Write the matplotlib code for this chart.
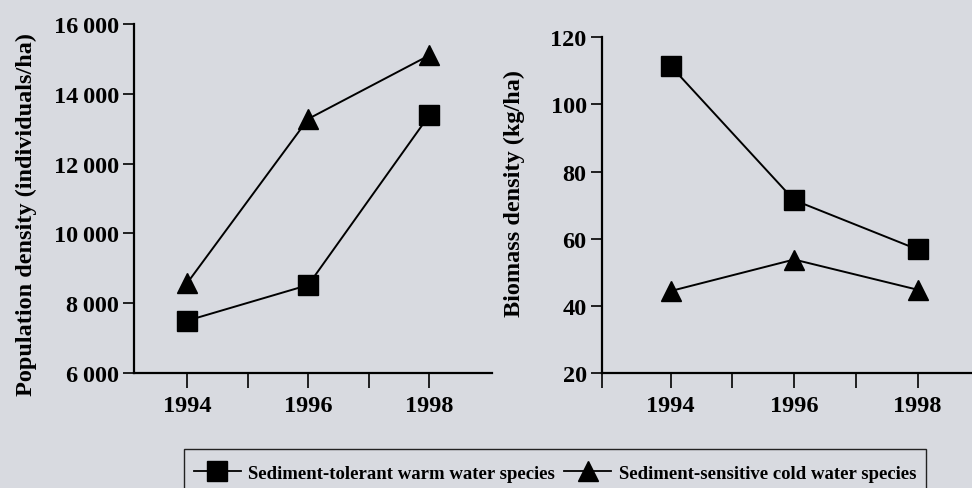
import numpy             as np
import matplotlib
matplotlib.use('Agg')
import matplotlib.pyplot as plt
from matplotlib.patches import Rectangle

plt.rcParams['font.family'] = ['Liberation Serif', 'DejaVu Serif']
plt.rcParams['font.weight'] = 'bold'
plt.rcParams['axes.labelweight'] = 'bold'

years      = [1994, 1996, 1998]
pop_warm   = [7500, 8520, 13380]
pop_cold   = [8580, 13280, 15100]
bio_warm   = [111.5, 71.5, 56.8]
bio_cold   = [44.4, 53.8, 44.8]
pop_ticks  = [6000, 8000, 10000, 12000, 14000, 16000]
pop_labels = ['6\u2009000', '8\u2009000', '10\u2009000', '12\u2009000', '14\u2009000', '16\u2009000']
bio_ticks  = [20, 40, 60, 80, 100, 120]
year_ticks = [1994, 1995, 1996, 1997, 1998]
year_labels= ['1994', '', '1996', '', '1998']
warm_name  = 'Sediment-tolerant warm water species'
cold_name  = 'Sediment-sensitive cold water species'

bg = '#d8dae0'
fig = plt.figure(figsize=(9.72, 4.89), dpi=100, facecolor=bg)

ax1 = fig.add_axes([0.1379, 0.2352, 0.3683, 0.7137])
ax2 = fig.add_axes([0.6193, 0.2352, 0.3807, 0.6865])

def style(ax):
    ax.set_facecolor('none')
    for s in ['top', 'right']:
        ax.spines[s].set_visible(False)
    for s in ['left', 'bottom']:
        ax.spines[s].set_linewidth(1.6)
    ax.tick_params(axis='x', direction='out', length=11, width=1.2, pad=5, labelsize=17.5)
    ax.tick_params(axis='y', direction='out', length=8, width=1.2, pad=3, labelsize=17.5)

# left: population density
ax1.plot(years, pop_warm, 'k-s', lw=1.4, ms=14)
ax1.plot(years, pop_cold, 'k-^', lw=1.4, ms=15)
ax1.set_xlim(1993.12, 1999.04)
ax1.set_ylim(6000, 16000)
ax1.set_yticks(pop_ticks)
ax1.set_yticklabels(pop_labels)
ax1.set_xticks(year_ticks)
ax1.set_xticklabels(year_labels)
ax1.set_ylabel('Population density (individuals/ha)', fontsize=17.5)
ax1.yaxis.set_label_coords(-0.272, 0.458)
style(ax1)

# right: biomass density
ax2.plot(years, bio_warm, 'k-s', lw=1.4, ms=14)
ax2.plot(years, bio_cold, 'k-^', lw=1.4, ms=15)
ax2.set_xlim(1992.89, 1998.88)
ax2.set_ylim(20, 120)
ax2.set_yticks(bio_ticks)
x0 = ax2.get_xlim()[0]
ax2.set_xticks([x0] + year_ticks)
ax2.set_xticklabels([''] + year_labels)
ax2.set_ylabel('Biomass density (kg/ha)', fontsize=17.5)
ax2.yaxis.set_label_coords(-0.208, 0.539)
style(ax2)

# legend box, running off the bottom edge
fig.patches.append(Rectangle((184/972, -0.05), (926-184)/972, 0.05 + 1-450/489,
                             transform=fig.transFigure, fill=False, ec='#222222', lw=1.0))
h1, = ax1.plot([], [], 'k-s', lw=1.3, ms=14)
h2, = ax1.plot([], [], 'k-^', lw=1.3, ms=15)
fig.legend([h1, h2], [warm_name, cold_name], loc='center', ncol=2,
           bbox_to_anchor=(555/972, 1-474/489), frameon=False, fontsize=13.5,
           handlelength=2.5, handletextpad=0.4, columnspacing=0.5, borderpad=0)

plt.savefig('out.png', dpi=100, facecolor=bg)
